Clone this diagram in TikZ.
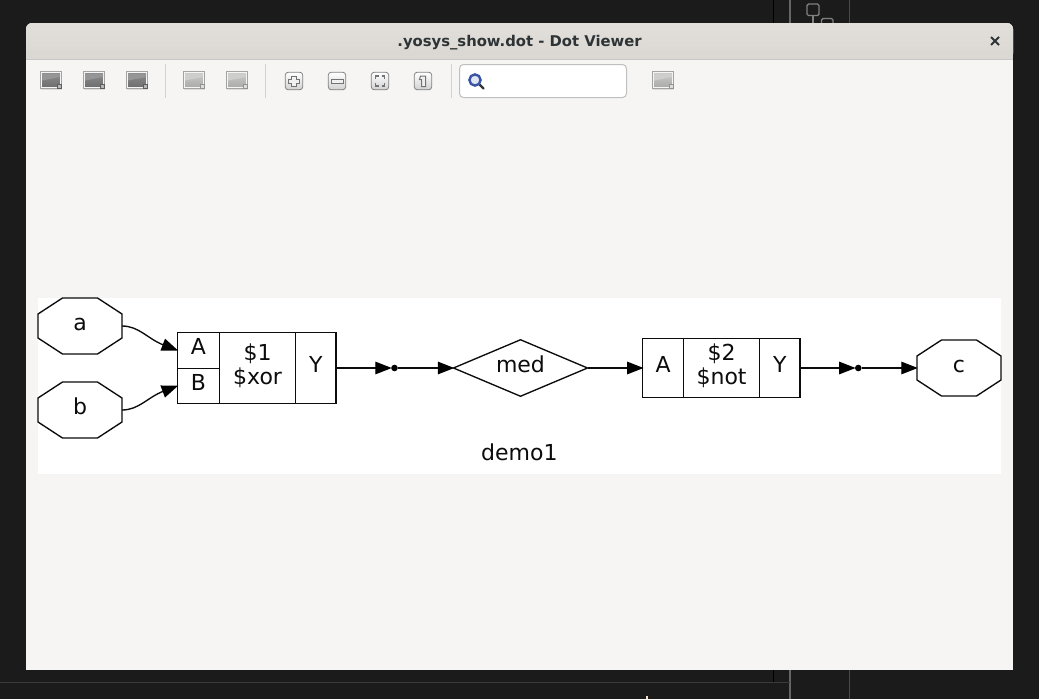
\documentclass[tikz,border=0pt]{standalone}
\usepackage{fontspec}
\setmainfont{DejaVu Sans}
\usetikzlibrary{arrows.meta,shapes.geometric}
\definecolor{deskbg}{HTML}{1B1B1B}
\definecolor{winbg}{HTML}{F6F5F4}
\definecolor{titletop}{HTML}{E2DFDB}
\definecolor{titlebot}{HTML}{DBD8D4}
\definecolor{sepcol}{HTML}{D5D2CE}
\definecolor{titlecol}{HTML}{2E3436}
\definecolor{inkcol}{HTML}{0C0C0C}
\definecolor{iconon}{HTML}{7C7C7C}
\definecolor{iconoff}{HTML}{C2C2C0}
\definecolor{lensblue}{HTML}{3A55A5}
\tikzset{
  x=1pt,y=-1pt,
  ink/.style={draw=inkcol,line width=1.35pt,line join=miter},
  lbl/.style={font=\fontsize{22}{25}\selectfont,text=inkcol,inner sep=0pt,outer sep=0pt,text height=14pt,text depth=6pt,align=center},
  port/.style={lbl,minimum width=84pt,minimum height=56pt},
  cell/.style={lbl,ink,minimum width=#1},
  twoline/.style={font=\fontsize{22}{24.7}\selectfont,text=inkcol,inner sep=0pt,outer sep=0pt,align=center,ink,minimum width=#1},
  medshape/.style={lbl,ink,diamond,aspect=2.39,minimum width=134pt,minimum height=56.5pt},
  junction/.style={circle,fill=black,draw=none,inner sep=0pt,minimum size=6.6pt},
  wire/.style={draw=inkcol,line width=1.35pt,shorten >=-0.8pt,-{Triangle[length=16.5pt,width=12.5pt,color=black]}},
  sep/.style={draw=sepcol,line width=1pt},
  iconfill/.style={top color=#1!88!white,bottom color=#1!88!black,draw=white!96!black,line width=1pt},
  btn/.style={rounded corners=3pt,top color=white,bottom color=white!82!black,draw=black!50,line width=.8pt},
  glyph/.style={draw=black!55,fill=white!94!black,line width=1pt},
  bgline/.style={line width=1pt},
}
\newcommand{\octa}[1]{%
  \draw[ink] ([shift={(-42,-12)}]#1.center) -- ([shift={(-17.5,-28)}]#1.center) -- ([shift={(17.5,-28)}]#1.center) -- ([shift={(42,-12)}]#1.center) -- ([shift={(42,12)}]#1.center) -- ([shift={(17.5,28)}]#1.center) -- ([shift={(-17.5,28)}]#1.center) -- ([shift={(-42,12)}]#1.center) -- cycle;}
\newcommand{\tbicon}[2]{%
  \fill[black!30,opacity=.35] (#1-10.5,81) rectangle (#1+10.5,90);
  \draw[draw=black!36,line width=.7pt] (#1-10.8,71.8) rectangle (#1+10.8,88.6);
  \path[iconfill=#2] (#1-9.8,72.9) rectangle (#1+9.8,87.6);
  \fill[#2!80!white] (#1-9,73.6) -- (#1+9,73.6) -- (#1+9,77) -- (#1-9,80.5) -- cycle;
  \fill[#2!75!black] (#1+6,84) rectangle (#1+10.5,88.8);
  \fill[#2!55!white] (#1+7.2,85.2) rectangle (#1+9.5,87.6);}
\newcommand{\tbbtn}[1]{\path[btn] (#1-8.7,72.2) rectangle (#1+8.7,89.8);}
\begin{document}
\begin{tikzpicture}
\useasboundingbox (0,0) rectangle (1039,699);
% desktop behind the window
\fill[deskbg] (0,0) rectangle (1039,699);
\draw[bgline,draw=black] (773.5,0) -- (773.5,23);
\draw[bgline,draw=black] (773.5,670) -- (773.5,682);
\draw[bgline,draw=white!20!deskbg] (849.5,0) -- (849.5,23);
\draw[bgline,draw=white!20!deskbg] (849.5,670) -- (849.5,699);
\draw[bgline,draw=gray!80!black,line width=1.4pt] (790,0) -- (790,23);
\draw[bgline,draw=gray!80!black,line width=1.4pt] (790,670) -- (790,699);
\draw[bgline,draw=white!14!deskbg] (0,682) -- (790,682);
\fill[white!75!orange] (646,696) rectangle (648,699);
\draw[draw=gray,line width=1.4pt,rounded corners=1.5pt] (807,4) rectangle (819,15.5);
\draw[draw=gray,line width=1.4pt] (813,15.5) -- (813,23);
\draw[draw=gray,line width=1.4pt,rounded corners=1.5pt] (821.5,23) -- (821.5,18.5) -- (833,18.5) -- (833,23);
% window
\fill[winbg,rounded corners=6pt] (26,23) rectangle (1013,60);
\fill[winbg] (26,40) rectangle (1013,670);
\path[top color=titletop,bottom color=titlebot,rounded corners=6pt] (26,23) -- (1013,23) -- (1013,59) -- (26,59) -- cycle;
\fill[titlebot] (26,50) rectangle (1013,59);
\draw[draw=black!22,line width=1pt] (26,59.5) -- (1013,59.5);
\node[font=\bfseries\fontsize{14.8}{17}\selectfont,text=titlecol,inner sep=0pt] (title) at (519.5,42.5) {.yosys\_show.dot - Dot Viewer};
\draw[draw=titlecol,line width=2pt] (991,37) -- (999,45) (999,37) -- (991,45);
% toolbar
\foreach \c in {51,94,137} {\tbicon{\c}{iconon}}
\foreach \c in {194,237,663} {\tbicon{\c}{iconoff}}
\foreach \c in {165.5,265.5,451.5} {\draw[sep] (\c,64) -- (\c,98);}
\foreach \c in {294,337,380,423} {\tbbtn{\c}}
\draw[glyph] (291.5,76.5) -- (296.5,76.5) -- (296.5,79.5) -- (299.5,79.5) -- (299.5,83) -- (296.5,83) -- (296.5,86) -- (291.5,86) -- (291.5,83) -- (288.5,83) -- (288.5,79.5) -- (291.5,79.5) -- cycle;
\draw[glyph] (331,79) rectangle (343,83);
\draw[draw=black!55,line width=1.4pt] (375.5,79) -- (375.5,76) -- (378.5,76) (381.5,76) -- (384.5,76) -- (384.5,79) (384.5,83) -- (384.5,86) -- (381.5,86) (378.5,86) -- (375.5,86) -- (375.5,83);
\draw[glyph] (420.5,76) -- (425.5,76) -- (425.5,86.5) -- (421.5,86.5) -- (421.5,79.5) -- (419.5,79.5) -- cycle;
\draw[fill=white,draw=black!25,line width=1pt,rounded corners=4pt] (459.5,64.5) rectangle (626.5,97.5);
\draw[draw=black!80,line width=2.4pt,line cap=round] (479.5,84.5) -- (483.5,88.5);
\draw[draw=lensblue,fill=white!85!lensblue,line width=2.4pt] (475,80) circle (5.6);
% graph canvas
\fill[white] (38,298) rectangle (1001,474);
\node[port] (a) at (80,326) {a};
\node[port] (b) at (80,410) {b};
\octa{a}\octa{b}
\node[cell=42pt,minimum height=36pt] (xorA) at (198.4,350.3) {A};
\node[cell=42pt,minimum height=35.4pt] (xorB) at (198.4,386) {B};
\node[twoline=76.4pt,minimum height=71.4pt] (xorName) at (257.6,368) {\$1\\\$xor\rule[-8pt]{0pt}{8pt}};
\node[cell=40.3pt,minimum height=71.4pt] (xorY) at (315.9,368) {Y};
\node[junction] (dotA) at (394.5,368) {};
\node[medshape] (med) at (520.5,368) {med};
\node[cell=40.8pt,minimum height=59pt] (notA) at (663.2,368) {A};
\node[twoline=76pt,minimum height=59pt] (notName) at (721.6,368) {\$2\\\$not\rule[-8pt]{0pt}{8pt}};
\node[cell=40.7pt,minimum height=59pt] (notY) at (779.8,368) {Y};
\node[junction] (dotB) at (858.3,368) {};
\node[port] (c) at (959,368) {c};
\octa{c}
\node[lbl] (demo) at (519.3,456.3) {demo1};
% connectors
\draw[wire] (a.east) .. controls (139,326) and (148,339) .. (xorA.west);
\draw[wire] (b.east) .. controls (139,410) and (148,397) .. (xorB.west);
\draw[wire] (xorY.east) -- (dotA.west);
\draw[wire] (dotA.east) -- (med.west);
\draw[wire] (med.east) -- (notA.west);
\draw[wire] (notY.east) -- (dotB.west);
\draw[wire] (dotB.east) -- (c.west);
\end{tikzpicture}
\end{document}
